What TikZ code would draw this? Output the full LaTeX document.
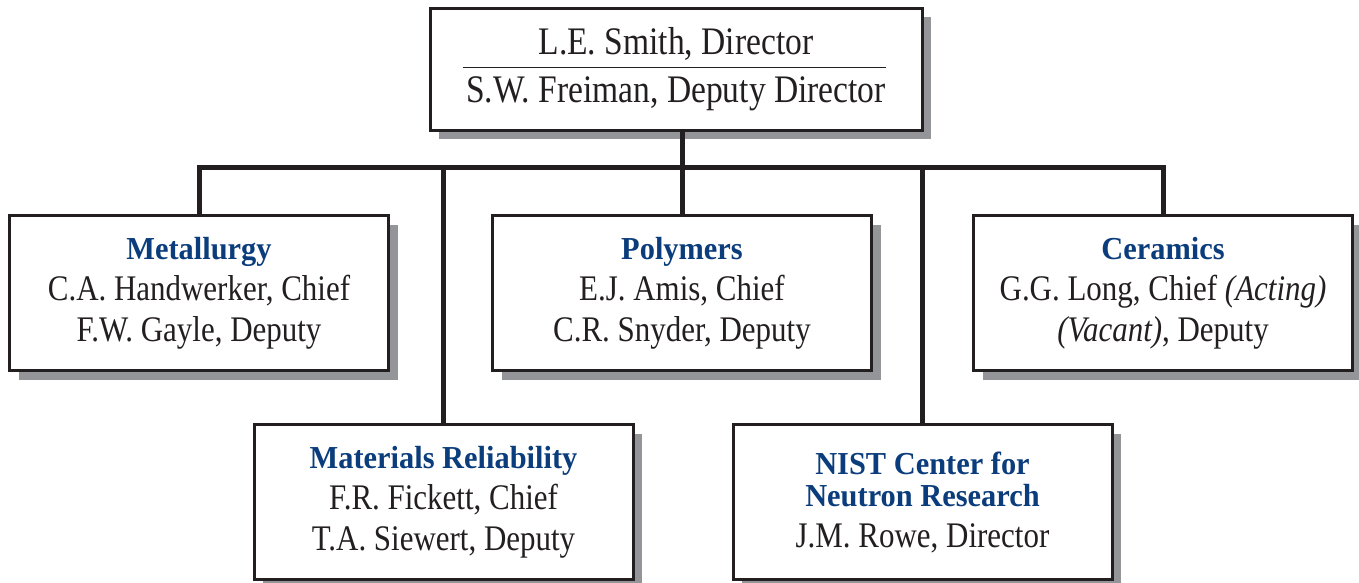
\documentclass[tikz,border=0pt]{standalone}
\usepackage{fontspec}
\setmainfont{Liberation Serif}[FakeStretch=0.86]
\newfontfamily\headfont{Liberation Serif}[FakeStretch=0.95]
\usetikzlibrary{positioning,shadows}
\definecolor{nistblue}{HTML}{0B3D7C}
\definecolor{shade}{HTML}{939598}
\definecolor{ink}{HTML}{231F20}
\newcommand{\unitname}[1]{{\headfont\bfseries\fontsize{32}{41}\selectfont\color{nistblue}#1}}

\begin{document}
\begin{tikzpicture}[x=1pt, y=-1pt,
  div/.style={draw=ink, line width=3pt, fill=white, minimum width=379pt, minimum height=155pt,
    align=center, inner sep=0pt, text=ink, font=\fontsize{36}{41}\selectfont,
    drop shadow={shadow xshift=9pt, shadow yshift=-9pt, fill=shade, opacity=1}},
  top/.style={div, minimum width=492pt, minimum height=122pt, font=\fontsize{39}{48}\selectfont},
  link/.style={draw=ink, line width=5pt, line join=miter}]
\useasboundingbox (0,0) rectangle (1359,582);
% director
\node[top] (dir) at (676,69) {L.E. Smith, Director\\ S.W. Freiman, Deputy Director};
\draw[ink, line width=1pt] ([xshift=34pt, yshift=2pt]dir.west) -- ([xshift=-38pt, yshift=2pt]dir.east);
% divisions, upper row
\node[div] (met) at (199,293) {\unitname{Metallurgy}\\ C.A. Handwerker, Chief\\ F.W. Gayle, Deputy};
\node[div, right=101pt of met] (pol) {\unitname{Polymers}\\ E.J. Amis, Chief\\ C.R. Snyder, Deputy};
\node[div, right=99pt of pol] (cer) {\unitname{Ceramics}\\ G.G. Long, Chief \textit{(Acting)}\\ \textit{(Vacant)}, Deputy};
% divisions, lower row
\node[div] (rel) at (443.5,502) {\unitname{Materials Reliability}\\ F.R. Fickett, Chief\\ T.A. Siewert, Deputy};
\node[div, right=97pt of rel] (ncnr) {\unitname{NIST Center for}\\[-9pt] \unitname{Neutron Research}\\ J.M. Rowe, Director};
% connectors
\coordinate (hub) at (pol.north |- 0,167);
\draw[link] (met.north) |- (hub) -| (cer.north);
\draw[link] (pol.north |- dir.south) -- (pol.north);
\draw[link] (rel.north) -- (rel.north |- hub);
\draw[link] (ncnr.north) -- (ncnr.north |- hub);
\end{tikzpicture}
\end{document}
